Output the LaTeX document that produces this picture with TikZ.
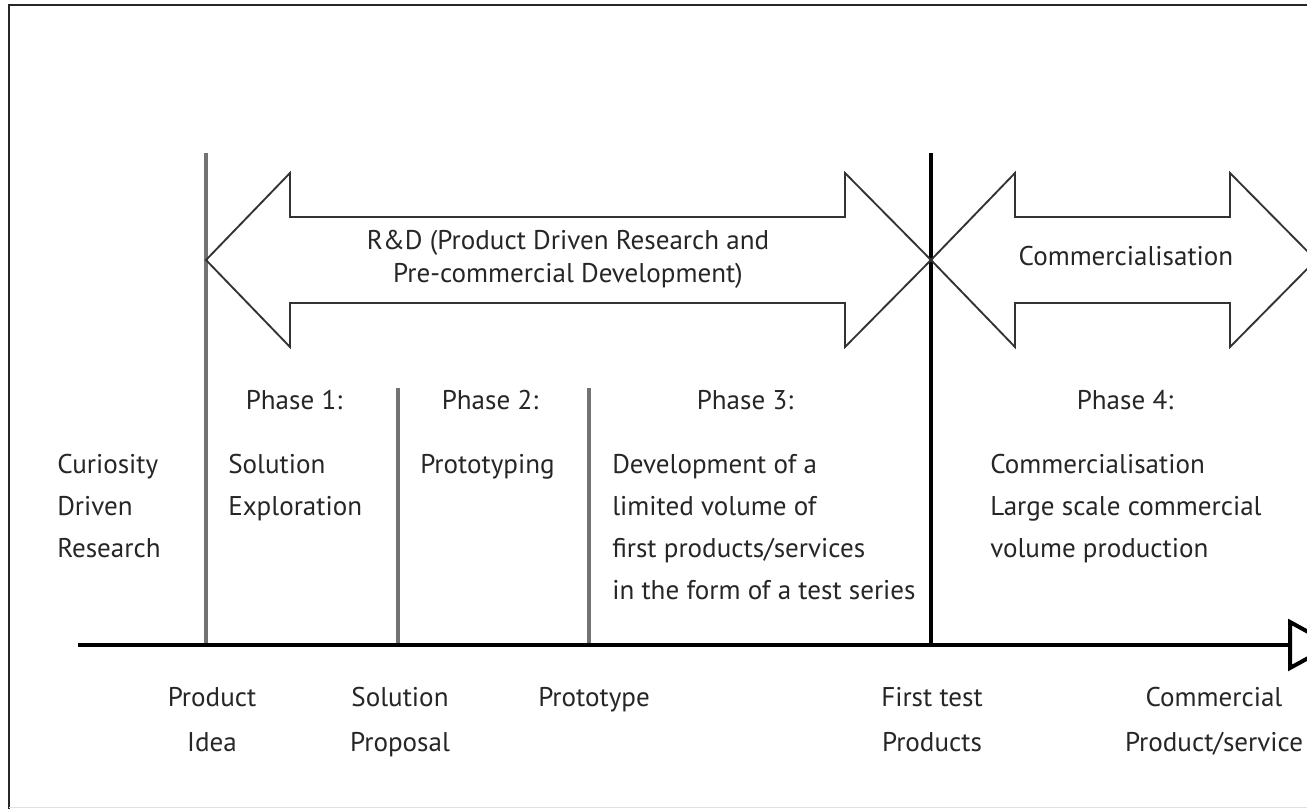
\documentclass[tikz,border=0pt]{standalone}
\usepackage{fontspec}
\setmainfont{PT Sans}
\begin{document}
\begin{tikzpicture}[x=0.75pt,y=-0.75pt,
  txt/.style={inner sep=0pt, text=black!85, font=\fontsize{20.3}{31.5}\selectfont, align=left},
  ctxt/.style={txt, align=center},
  rdtxt/.style={ctxt, font=\fontsize{20.3}{24.75}\selectfont},
  mtxt/.style={ctxt, font=\fontsize{20.3}{33.75}\selectfont},
  gline/.style={draw=black!55, line width=2.3pt},
  bline/.style={draw=black, line width=3pt},
  arr/.style={draw=black!80, line width=1.4pt, line join=miter}]
\useasboundingbox (0,0) rectangle (1307,809);
\fill[white] (0,0) rectangle (1307,809);
% frame
\draw[line width=1.9pt, black!85] (9,812) -- (9,5) -- (1320,5);
\draw[black!12, line width=0.8pt] (9,807.5) -- (1307,807.5);
% coordinates
\coordinate (ax0) at (78,645);
\coordinate (axE) at (1290,645);
\coordinate (v1t) at (206,153); \coordinate (v1b) at (206,645);
\coordinate (v2t) at (398,388); \coordinate (v2b) at (398,645);
\coordinate (v3t) at (589,388); \coordinate (v3b) at (589,645);
\coordinate (v4t) at (931,153); \coordinate (v4b) at (931,645);
% vertical lines
\draw[gline] (v1t) -- (v1b);
\draw[gline] (v2t) -- (v2b);
\draw[gline] (v3t) -- (v3b);
\draw[bline] (v4t) -- (v4b);
% axis
\draw[bline] (ax0) -- (axE);
\draw[bline, line join=miter, fill=white] (axE) -- (1290,622) -- (1332,645) -- (1290,668) -- cycle;
% big arrows
\draw[arr] (206,260) -- (290,173) -- (290,217) -- (845,217) -- (845,173) -- (931,260)
  -- (845,347) -- (845,303) -- (290,303) -- (290,347) -- cycle;
\draw[arr] (931,260) -- (1015,173) -- (1015,217) -- (1230,217) -- (1230,173) -- (1316,260)
  -- (1230,347) -- (1230,303) -- (1015,303) -- (1015,347) -- cycle;
% arrow texts (anchor = baseline of last line)
\node[rdtxt, anchor=base] (rd) at (568,283) {R\&D (Product Driven Research and\\Pre-commercial Development)};
\node[ctxt, anchor=base] (com) at (1126,266) {Commercialisation};
% phase titles
\node[ctxt, anchor=base] (p1) at (294,409) {Phase 1:};
\node[ctxt, anchor=base] (p2) at (490,409) {Phase 2:};
\node[ctxt, anchor=base] (p3) at (745,409) {Phase 3:};
\node[ctxt, anchor=base] (p4) at (1125,409) {Phase 4:};
% phase bodies
\node[txt, anchor=base west] (cur) at (57,557) {Curiosity\\Driven\\Research};
\node[txt, anchor=base west] (b1) at (228,515) {Solution\\Exploration};
\node[txt, anchor=base west] (b2) at (420,473) {Prototyping};
\node[txt, anchor=base west] (b3) at (612,599) {Development of a\\limited volume of\\first products/services\\in the form of a test series};
\node[txt, anchor=base west] (b4) at (990,557) {Commercialisation\\Large scale commercial\\volume production};
% milestone labels
\node[mtxt, anchor=base] (m1) at (212,751) {Product\\Idea};
\node[mtxt, anchor=base] (m2) at (400,751) {Solution\\Proposal};
\node[mtxt, anchor=base] (m3) at (594,706) {Prototype};
\node[mtxt, anchor=base] (m4) at (932,751) {First test\\Products};
\node[mtxt, anchor=base] (m5) at (1214,751) {Commercial\\Product/service};
\end{tikzpicture}
\end{document}
